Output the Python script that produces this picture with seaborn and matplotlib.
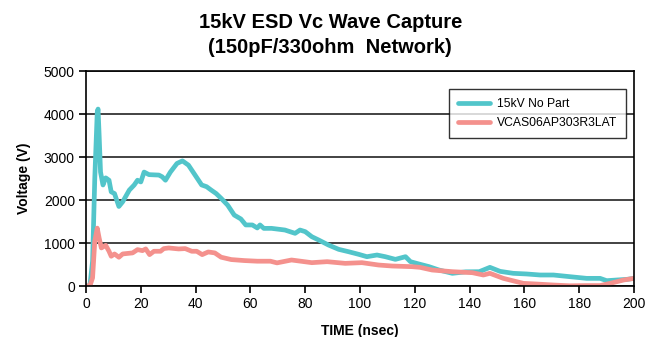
import numpy as np
import pandas as pd
import matplotlib
matplotlib.use('Agg')
from matplotlib import pyplot as plt
import seaborn as sns

sns.set_style('white')
plt.rcParams['font.family'] = ['Liberation Sans', 'DejaVu Sans']
plt.rcParams['text.color'] = 'black'
plt.rcParams['axes.labelcolor'] = 'black'

# 15kV, no protection part
t_nopart = [0, 1.4, 2.4, 3.2, 4.1, 4.4, 4.8, 5.3, 6.2, 7.2, 8.4, 9.2, 10.4, 12, 13.4,
            15.8, 17.6, 18.8, 20, 21.2, 23, 26.6, 27.8, 29, 30.8, 33.2, 35.2, 37.4,
            39.8, 42.2, 44, 45.7, 47.5, 49.3, 51.7, 54.1, 56.5, 58.3, 60.7, 62.5,
            63.5, 64.9, 67.7, 72.6, 76.3, 78.1, 80, 82.4, 84.9, 88.5, 92.2, 95.8,
            99.5, 102.5, 106.2, 109.2, 112.9, 116.6, 118.4, 121.5, 125.2, 128.8,
            133.7, 138.6, 143.5, 147.4, 151.1, 155.9, 160.8, 165.7, 170.6, 176.6,
            182.7, 187.6, 190, 193.7, 197.4, 200]
v_nopart = [0, 0, 577, 2500, 4040, 4115, 3500, 2650, 2350, 2515, 2460, 2190, 2150, 1850, 1960,
            2230, 2350, 2460, 2420, 2650, 2590, 2580, 2540, 2460, 2650, 2850, 2910, 2810,
            2580, 2350, 2310, 2230, 2150, 2040, 1880, 1650, 1560, 1420, 1420, 1350,
            1420, 1340, 1341, 1302, 1225, 1302, 1264, 1147, 1070, 953, 853, 798,
            737, 682, 721, 682, 620, 682, 566, 512, 450, 372,
            295, 330, 333, 434, 341, 295, 280, 256, 256, 217,
            178, 178, 124, 140, 155, 178]

# with VCAS06AP303R3LAT
t_vcas = [0, 1.4, 2.4, 3.2, 4.1, 4.8, 5.6, 7.2, 8.4, 9.2, 10.4, 12, 13.4, 17, 18.8,
          20.6, 21.8, 23.2, 24.8, 27.2, 28.4, 30.2, 33.8, 36.2, 38.6, 40.4, 42.4,
          44.6, 47, 49.3, 53, 57.7, 62.5, 67.3, 69.7, 75, 82.4, 88, 94.6, 100.7,
          106.8, 111.7, 119, 121.9, 126.3, 133.7, 141, 145, 147.4, 152.3, 157.2,
          159.6, 164.5, 170.6, 176.6, 182.7, 187.6, 191.3, 196.2, 200]
v_vcas = [0, 0, 190, 1040, 1346, 1115, 885, 946, 808, 692, 746, 669, 746, 770, 846,
          823, 862, 730, 808, 808, 870, 885, 862, 870, 808, 808, 730,
          792, 770, 670, 615, 592, 577, 577, 538, 605, 543, 566, 527, 543,
          488, 465, 450, 434, 372, 333, 310, 256, 295, 178, 100,
          62, 46, 23, 5, 10, 10, 62, 140, 178]

labels = ['15kV No Part', 'VCAS06AP303R3LAT']
colors = ['#52C5CA', '#F4918D']

df = pd.concat([
    pd.DataFrame({'time': t_nopart, 'voltage': v_nopart, 'series': labels[0]}),
    pd.DataFrame({'time': t_vcas, 'voltage': v_vcas, 'series': labels[1]}),
])

fig = plt.figure(figsize=(6.54, 3.37), dpi=100)
ax = fig.add_axes([0.1315, 0.1513, 0.838, 0.638])
sns.lineplot(data=df, x='time', y='voltage', hue='series', palette=colors,
             linewidth=3.4, ax=ax, estimator=None, sort=False)

ax.set_xlim(0, 200)
ax.set_ylim(0, 5000)
ax.set_xticks(range(0, 201, 20))
ax.set_yticks(range(0, 5001, 1000))
ax.yaxis.grid(True, color='#222222', linewidth=1.2)
ax.set_axisbelow(True)
for s in ax.spines.values():
    s.set_color('black')
    s.set_linewidth(1.2)
ax.tick_params(axis='both', direction='out', length=5, width=1.2, color='black',
               labelsize=10, pad=3, left=True, bottom=True, labelcolor='black')
ax.set_xlabel('TIME (nsec)', fontsize=10, fontweight='bold', labelpad=9)
ax.set_ylabel('Voltage (V)', fontsize=10, fontweight='bold', labelpad=9)

fig.text(0.505, 1 - 28 / 337, '15kV ESD Vc Wave Capture', fontsize=14.5,
         fontweight='bold', ha='center', va='baseline')
fig.text(0.505, 1 - 53 / 337, '(150pF/330ohm  Network)', fontsize=14.5,
         fontweight='bold', ha='center', va='baseline')

leg = ax.legend(loc='upper right', bbox_to_anchor=(0.9965, 0.945), fontsize=8.7,
                frameon=True, fancybox=False, edgecolor='black', handlelength=2.6,
                borderpad=0.75, labelspacing=0.6, handletextpad=0.6)
leg.get_frame().set_linewidth(1.0)
for line in leg.get_lines():
    line.set_linewidth(3.4)

plt.savefig('out.png', dpi=100)
